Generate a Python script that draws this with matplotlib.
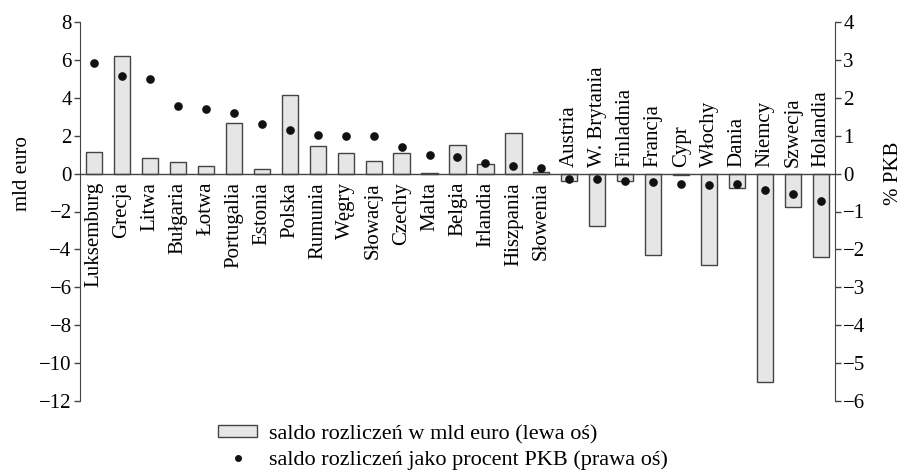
import matplotlib
matplotlib.use("Agg")
import matplotlib.pyplot as plt
from matplotlib.patches import Patch
from matplotlib.lines import Line2D
import numpy as np

plt.rcParams['font.family'] = ['Liberation Serif', 'DejaVu Serif']

countries = ['Luksemburg', 'Grecja', 'Litwa', 'Bułgaria', 'Łotwa', 'Portugalia',
             'Estonia', 'Polska', 'Rumunia', 'Węgry', 'Słowacja', 'Czechy',
             'Malta', 'Belgia', 'Irlandia', 'Hiszpania', 'Słowenia', 'Austria',
             'W. Brytania', 'Finladnia', 'Francja', 'Cypr', 'Włochy', 'Dania',
             'Niemcy', 'Szwecja', 'Holandia']
saldo_mld = [1.15, 6.2, 0.83, 0.62, 0.42, 2.66, 0.23, 4.16, 1.46, 1.07, 0.67, 1.07,
             0.05, 1.5, 0.49, 2.15, 0.08, -0.4, -2.79, -0.37, -4.29, -0.05, -4.83,
             -0.76, -11.0, -1.78, -4.39]
saldo_pkb = [2.93, 2.58, 2.5, 1.78, 1.7, 1.6, 1.3, 1.16, 1.03, 1.0, 1.0, 0.7,
             0.48, 0.44, 0.27, 0.21, 0.15, -0.14, -0.14, -0.19, -0.21, -0.28, -0.3,
             -0.28, -0.44, -0.53, -0.73]

line_col = '#444444'
fs = 15

fig = plt.figure(figsize=(9.06, 4.75), dpi=100)
ax = fig.add_axes([80 / 906, 1 - 401 / 475, 755 / 906, 379 / 475])
ax2 = ax.twinx()

x = np.arange(len(countries))
ax.bar(x, saldo_mld, width=0.58, color='#e6e6e6', edgecolor=line_col, linewidth=1.0, zorder=2)
ax.axhline(0, color=line_col, lw=1.0, zorder=3)
ax2.plot(x, saldo_pkb, 'o', color='#111111', markersize=5.2, zorder=4)

ax.set_xlim(-0.5, len(countries) - 0.5)
ax.set_ylim(-12, 8)
ax2.set_ylim(-6, 4)
ax.set_yticks(range(-12, 9, 2))
ax2.set_yticks(range(-6, 5, 1))
ax.set_yticklabels([str(v).replace('-', '\u2212') for v in range(-12, 9, 2)])
ax2.set_yticklabels([str(v).replace('-', '\u2212') for v in range(-6, 5, 1)])
ax.set_xticks([])

for a in (ax, ax2):
    for s in ('top', 'bottom'):
        a.spines[s].set_visible(False)
    a.tick_params(axis='y', direction='out', length=4, width=1, colors=line_col,
                  labelcolor='black', labelsize=fs, pad=2)
ax.spines['left'].set_color(line_col)
ax2.spines['right'].set_color(line_col)
ax.spines['right'].set_visible(False)
ax2.spines['left'].set_visible(False)

# axis titles centred on the zero line
ax.set_ylabel('mld euro', fontsize=fs)
ax.yaxis.set_label_coords(-0.064, 0.60)
ax2.set_ylabel('% PKB', fontsize=fs, rotation=90)
ax2.yaxis.set_label_coords(1.065, 0.60)

for i, (name, v) in enumerate(zip(countries, saldo_mld)):
    if v >= 0:
        ax.annotate(name, (i, 0), xytext=(0, -6), textcoords='offset points',
                    rotation=90, ha='center', va='top', fontsize=fs)
    else:
        ax.annotate(name, (i, 0), xytext=(0, 5), textcoords='offset points',
                    rotation=90, ha='center', va='bottom', fontsize=fs)

handles = [Patch(facecolor='#e6e6e6', edgecolor=line_col, linewidth=1.0),
           Line2D([], [], marker='o', linestyle='none', color='#111111', markersize=4)]
labels = ['saldo rozliczeń w mld euro (lewa oś)',
          'saldo rozliczeń jako procent PKB (prawa oś)']
fig.legend(handles, labels, loc='upper left', bbox_to_anchor=(207 / 906, 1 - 414 / 475),
           frameon=False, fontsize=16, handlelength=1.75, handleheight=0.45,
           handletextpad=0.55, labelspacing=0.25, borderpad=0)

fig.savefig('out.png', dpi=100)
